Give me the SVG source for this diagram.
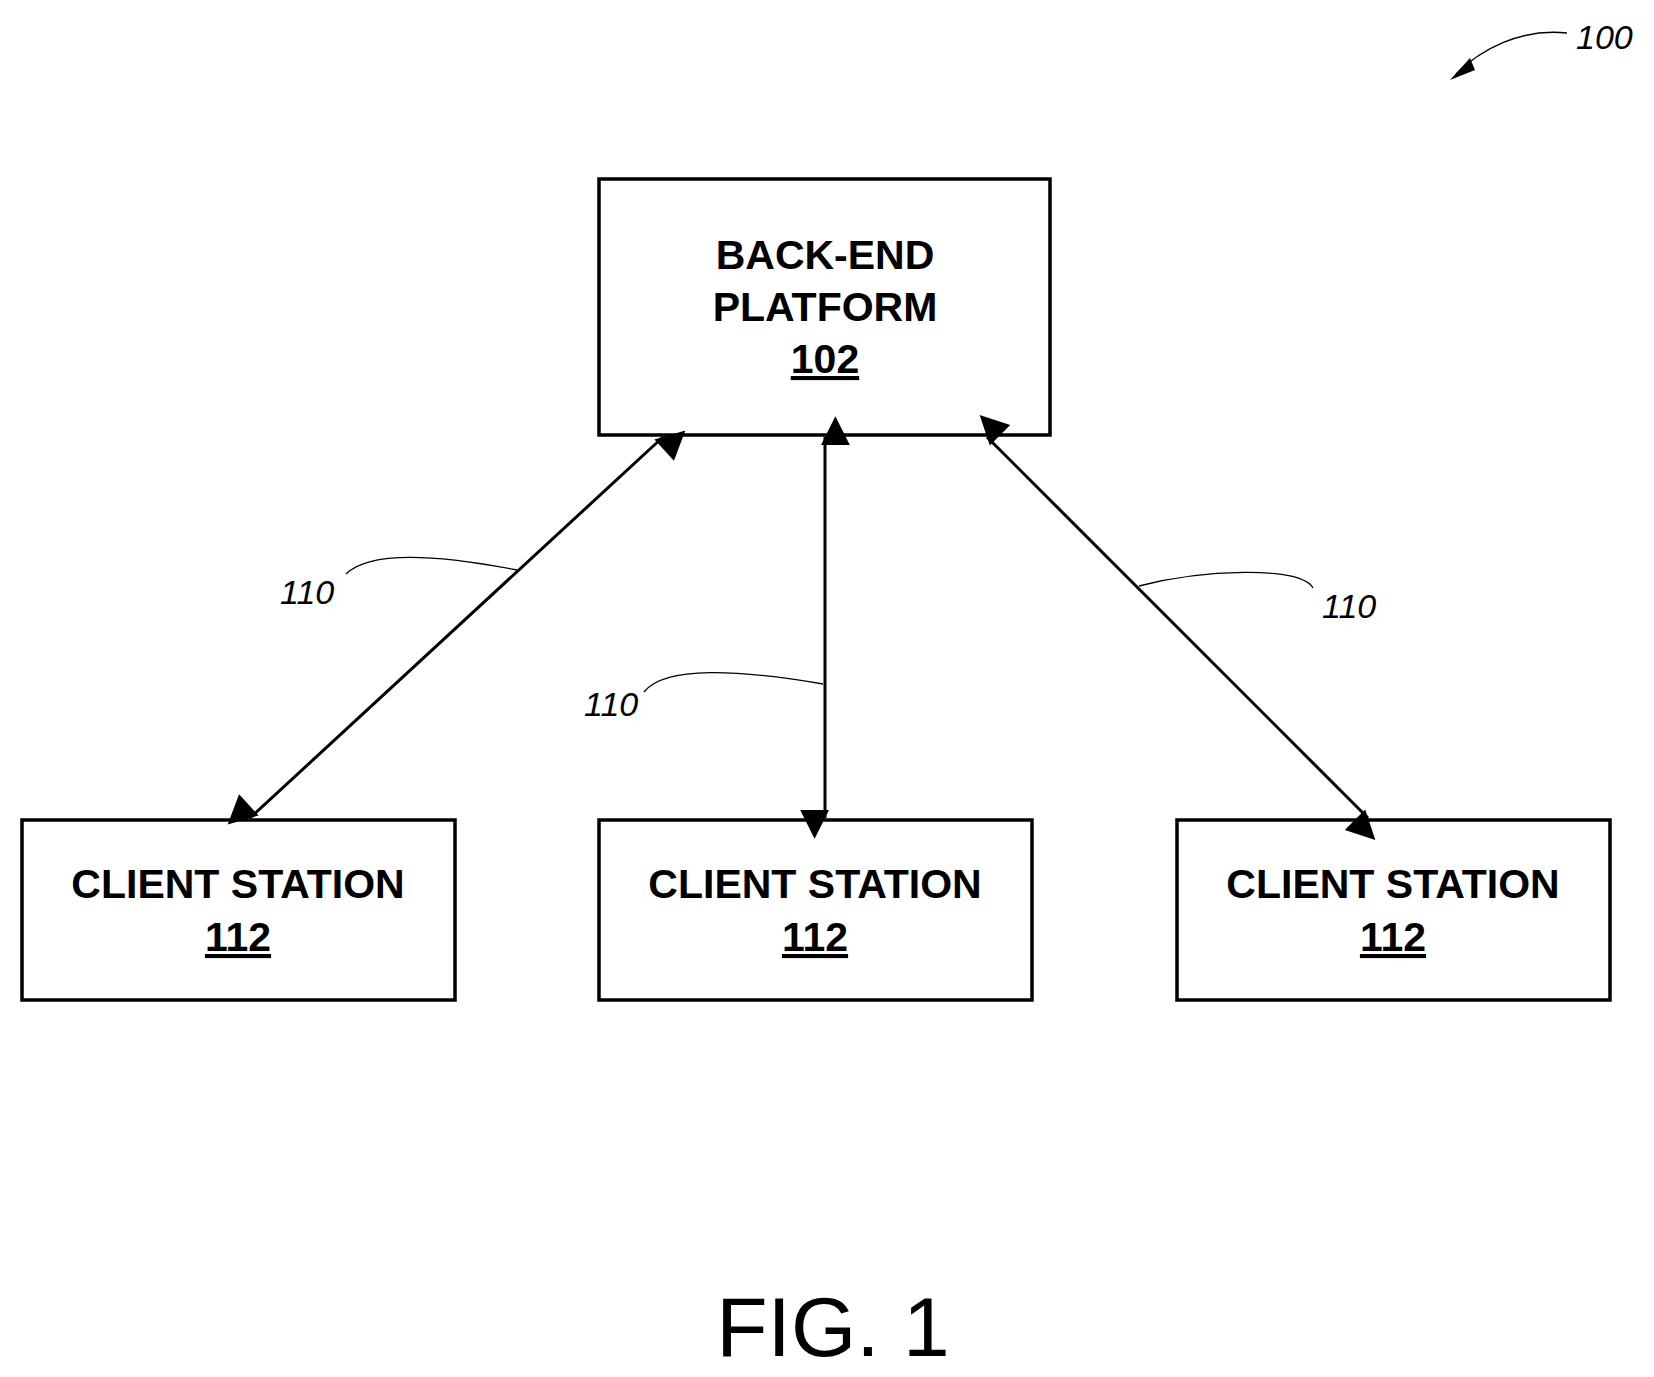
<svg xmlns="http://www.w3.org/2000/svg" width="1654" height="1377" viewBox="0 0 1654 1377">
<style>
.box{fill:#fff;stroke:#000;stroke-width:3.5}
.t{font-family:"Liberation Sans",Arial,sans-serif;font-weight:bold;font-size:41px;text-anchor:middle}
.r{font-family:"Liberation Sans",Arial,sans-serif;font-style:italic;font-size:34px}
.c{fill:none;stroke:#000;stroke-width:3}
.l{fill:none;stroke:#000;stroke-width:1.3}
</style>
<defs>
<marker id="a" viewBox="0 0 10 10" refX="10" refY="5" markerWidth="8" markerHeight="8" markerUnits="userSpaceOnUse" orient="auto-start-reverse" style="overflow:visible">
<path d="M0,0 L10,5 L0,10 z" transform="scale(3.6)" fill="#000"/>
</marker>
<marker id="s" viewBox="0 0 10 10" refX="10" refY="5" markerWidth="20" markerHeight="16" orient="auto">
<path d="M0,0 L10,5 L0,10 z" fill="#000"/>
</marker>
</defs>
<rect width="1654" height="1377" fill="#fff"/>
<g id="backend">
<rect class="box" x="599" y="179" width="451" height="256"/>
<text class="t" x="825" y="269">BACK-END</text>
<text class="t" x="825" y="321">PLATFORM</text>
<text class="t" x="825" y="373" text-decoration="underline">102</text>
</g>
<g id="client1">
<rect class="box" x="22" y="820" width="433" height="180"/>
<text class="t" x="238" y="898">CLIENT STATION</text>
<text class="t" x="238" y="951" text-decoration="underline">112</text>
</g>
<g id="client2">
<rect class="box" x="599" y="820" width="433" height="180"/>
<text class="t" x="815" y="898">CLIENT STATION</text>
<text class="t" x="815" y="951" text-decoration="underline">112</text>
</g>
<g id="client3">
<rect class="box" x="1177" y="820" width="433" height="180"/>
<text class="t" x="1393" y="898">CLIENT STATION</text>
<text class="t" x="1393" y="951" text-decoration="underline">112</text>
</g>
<g id="connectors">
<line class="c" x1="663" y1="437" x2="250" y2="818" marker-start="url(#a)" marker-end="url(#a)"/>
<line class="c" x1="825" y1="437" x2="825" y2="818" marker-start="url(#a)" marker-end="url(#a)"/>
<line class="c" x1="987" y1="437" x2="1368" y2="818" marker-start="url(#a)" marker-end="url(#a)"/>
<path class="l" d="M346,574 C370,550 440,555 517,570"/>
<path class="l" d="M644,692 C665,665 740,670 823,684"/>
<path class="l" d="M1139,586 C1200,570 1300,565 1313,588"/>
<path class="l" d="M1567,33 C1520,28 1480,50 1456,74"/>
<path d="M1450,80 L1470,58 L1475,70 z" fill="#000"/>
</g>
<text class="r" x="280" y="604">110</text>
<text class="r" x="584" y="716">110</text>
<text class="r" x="1322" y="618">110</text>
<text class="r" x="1576" y="49">100</text>
<text x="833" y="1356" font-family="'Liberation Sans',Arial,sans-serif" font-size="84" text-anchor="middle">FIG. 1</text>
</svg>
